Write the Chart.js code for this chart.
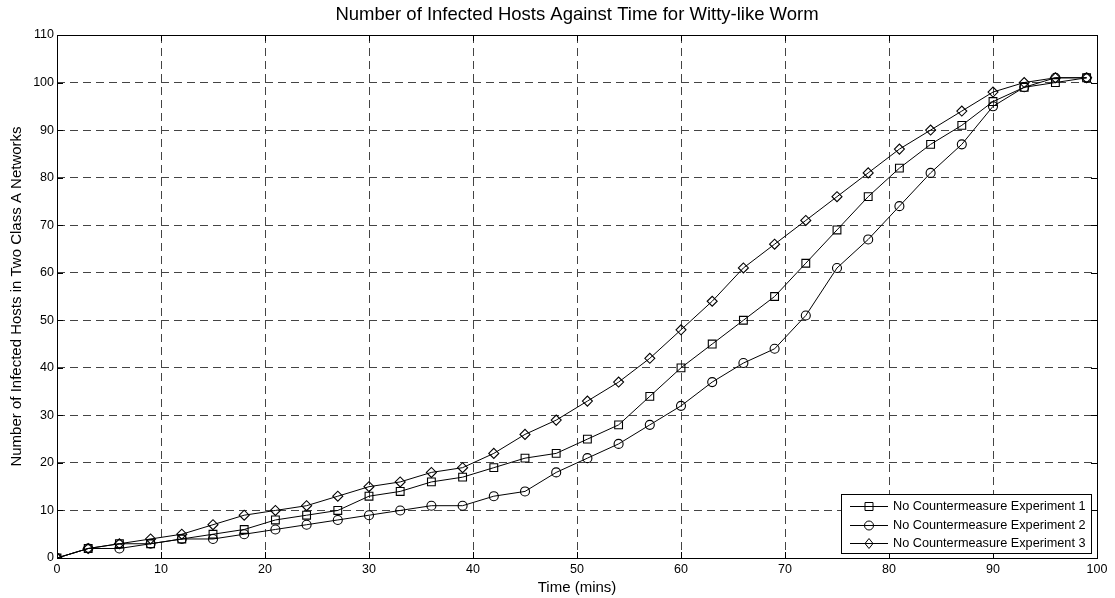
<!DOCTYPE html>
<html>
<head>
<meta charset="utf-8">
<script src="https://cdn.jsdelivr.net/npm/chart.js@4.4.1/dist/chart.umd.min.js"></script>
<style>
  html, body { margin: 0; padding: 0; background: #fff; }
  #wrap { width: 1115px; height: 598px; }
</style>
</head>
<body>
<div id="wrap"><canvas id="grafico"></canvas></div>
<script>
// tempo (minutos), um ponto a cada 3 min
const times = [0, 3, 6, 9, 12, 15, 18, 21, 24, 27, 30, 33, 36, 39, 42, 45, 48, 51, 54, 57, 60, 63, 66, 69, 72, 75, 78, 81, 84, 87, 90, 93, 96, 99];

const exp1 = [0, 2, 3, 3, 4, 5, 6, 8, 9, 10, 13, 14, 16, 17, 19, 21, 22, 25, 28, 34, 40, 45, 50, 55, 62, 69, 76, 82, 87, 91, 96, 99, 100, 101];
const exp2 = [0, 2, 2, 3, 4, 4, 5, 6, 7, 8, 9, 10, 11, 11, 13, 14, 18, 21, 24, 28, 32, 37, 41, 44, 51, 61, 67, 74, 81, 87, 95, 99, 101, 101];
const exp3 = [0, 2, 3, 4, 5, 7, 9, 10, 11, 13, 15, 16, 18, 19, 22, 26, 29, 33, 37, 42, 48, 54, 61, 66, 71, 76, 81, 86, 90, 94, 98, 100, 101, 101];

const labels = ['No Countermeasure Experiment 1', 'No Countermeasure Experiment 2', 'No Countermeasure Experiment 3'];
const xTicks = [0, 10, 20, 30, 40, 50, 60, 70, 80, 90, 100];
const yTicks = [0, 10, 20, 30, 40, 50, 60, 70, 80, 90, 100, 110];

const FONT = "'Liberation Sans', Arial, sans-serif";

function serie(label, values, style, radius) {
    return {
        label: label,
        data: times.map((t, i) => ({ x: t, y: values[i] })),
        borderColor: '#000',
        borderWidth: 1,
        pointStyle: style,
        pointRadius: radius,
        pointHoverRadius: radius,
        pointBorderColor: '#000',
        pointBackgroundColor: 'rgba(0,0,0,0)',
        pointBorderWidth: 1.1,
        tension: 0,
        fill: false
    };
}

// desenha um marcador simples (quadrado, círculo, losango)
function marcador(ctx, style, x, y) {
    ctx.beginPath();
    if (style === 'rect') {
        ctx.rect(x - 4, y - 4, 8, 8);
    } else if (style === 'circle') {
        ctx.arc(x, y, 4.5, 0, Math.PI * 2);
    } else {
        ctx.moveTo(x, y - 5);
        ctx.lineTo(x + 4, y);
        ctx.lineTo(x, y + 5);
        ctx.lineTo(x - 4, y);
        ctx.closePath();
    }
    ctx.stroke();
}

// moldura, ticks internos, título e legenda no estilo MATLAB
const molduraPlugin = {
    id: 'moldura',
    afterDraw(chart) {
        const { ctx, chartArea: a, scales } = chart;
        ctx.save();
        ctx.strokeStyle = '#000';
        ctx.lineWidth = 1;

        // ticks para dentro
        ctx.beginPath();
        xTicks.forEach(v => {
            const px = Math.round(scales.x.getPixelForValue(v)) + 0.5;
            ctx.moveTo(px, a.bottom); ctx.lineTo(px, a.bottom - 6);
            ctx.moveTo(px, a.top); ctx.lineTo(px, a.top + 6);
        });
        yTicks.forEach(v => {
            const py = Math.round(scales.y.getPixelForValue(v)) + 0.5;
            ctx.moveTo(a.left, py); ctx.lineTo(a.left + 6, py);
            ctx.moveTo(a.right, py); ctx.lineTo(a.right - 6, py);
        });
        ctx.stroke();

        ctx.strokeRect(Math.round(a.left) + 0.5, Math.round(a.top) + 0.5,
                       Math.round(a.right - a.left), Math.round(a.bottom - a.top));

        // título
        ctx.fillStyle = '#000';
        ctx.font = '18.5px ' + FONT;
        ctx.textAlign = 'center';
        ctx.textBaseline = 'middle';
        ctx.fillText('Number of Infected Hosts Against Time for Witty-like Worm', (a.left + a.right) / 2, 15);

        // legenda
        const bw = 250, bh = 59;
        const bx = a.right - 6 - bw, by = a.bottom - 5 - bh;
        ctx.fillStyle = '#fff';
        ctx.fillRect(bx, by, bw, bh);
        ctx.strokeRect(Math.round(bx) + 0.5, Math.round(by) + 0.5, bw, bh);
        ctx.font = '12.7px ' + FONT;
        ctx.textAlign = 'left';
        chart.data.datasets.forEach((ds, i) => {
            const ly = Math.round(by + 12 + i * 18.5) + 0.5;
            ctx.beginPath();
            ctx.moveTo(bx + 9, ly); ctx.lineTo(bx + 47, ly);
            ctx.stroke();
            ctx.fillStyle = '#fff';
            marcador(ctx, ds.pointStyle, bx + 28, ly);
            ctx.fillStyle = '#000';
            ctx.fillText(ds.label, bx + 52, ly);
        });
        ctx.restore();
    }
};

new Chart(document.getElementById('grafico').getContext('2d'), {
    type: 'line',
    data: {
        datasets: [
            serie(labels[0], exp1, 'rect', 5.5),
            serie(labels[1], exp2, 'circle', 4.5),
            serie(labels[2], exp3, 'rectRot', 5)
        ]
    },
    options: {
        responsive: true,
        maintainAspectRatio: false,
        animation: false,
        layout: { padding: { left: 0, right: 18, top: 35, bottom: 0 } },
        plugins: {
            legend: { display: false },
            title: { display: false },
            tooltip: { enabled: false }
        },
        scales: {
            x: {
                type: 'linear',
                min: 0,
                max: 100,
                afterFit: s => { s.height = 40; },
                afterBuildTicks: s => { s.ticks = xTicks.map(v => ({ value: v })); },
                ticks: { color: '#000', font: { size: 12.5, family: FONT }, padding: 4, maxRotation: 0 },
                grid: { color: '#444', lineWidth: 1, drawTicks: false },
                border: { display: false, dash: [8, 5] },
                title: { display: true, text: 'Time (mins)', color: '#000', font: { size: 15, family: FONT }, padding: { top: 1, bottom: 1 } }
            },
            y: {
                min: 0,
                max: 110,
                afterFit: s => { s.width = 57; },
                afterBuildTicks: s => { s.ticks = yTicks.map(v => ({ value: v })); },
                ticks: { color: '#000', font: { size: 12.5, family: FONT }, padding: 3 },
                grid: { color: '#444', lineWidth: 1, drawTicks: false },
                border: { display: false, dash: [8, 5] },
                title: { display: true, text: 'Number of Infected Hosts in Two Class A Networks', color: '#000', font: { size: 15, family: FONT }, padding: { top: 8, bottom: 0 } }
            }
        }
    },
    plugins: [molduraPlugin]
});
</script>
</body>
</html>
